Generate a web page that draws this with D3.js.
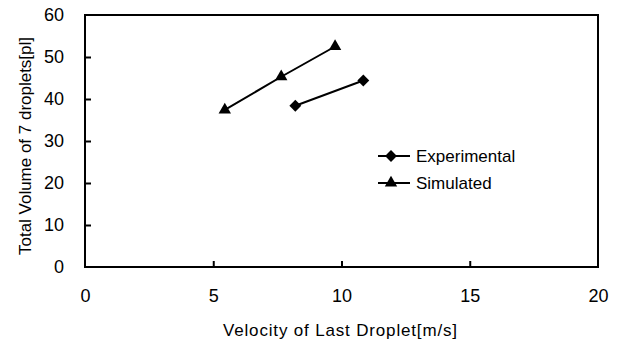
<!DOCTYPE html>
<html>
<head>
<meta charset="utf-8">
<script src="https://cdn.jsdelivr.net/npm/d3@7"></script>
<style>
  body { margin: 0; background: #fff; }
  svg { display: block; font-family: "Liberation Sans", Arial, sans-serif; }
</style>
</head>
<body>
<div id="chart"></div>
<script>
// data
const experimentalVelocity = [8.2, 10.85];
const experimentalVolume = [38.4, 44.4];
const simulatedVelocity = [5.45, 7.65, 9.75];
const simulatedVolume = [37.4, 45.3, 52.5];
const xTicks = [0, 5, 10, 15, 20];
const yTicks = [0, 10, 20, 30, 40, 50, 60];
const seriesNames = ['Experimental', 'Simulated'];

const width = 618, height = 339;
const margin = { top: 15, right: 20, bottom: 72, left: 85 };

const svg = d3.select('#chart').append('svg')
  .attr('width', width)
  .attr('height', height);

const x = d3.scaleLinear().domain([0, 20]).range([margin.left, width - margin.right]);
const y = d3.scaleLinear().domain([0, 60]).range([height - margin.bottom, margin.top]);

// frame
svg.append('rect')
  .attr('x', x(0)).attr('y', y(60))
  .attr('width', x(20) - x(0)).attr('height', y(0) - y(60))
  .attr('fill', 'none').attr('stroke', '#000').attr('stroke-width', 2);

// x axis, ticks point inward
const xAxis = svg.append('g')
  .attr('transform', `translate(0,${y(0)})`)
  .call(d3.axisBottom(x).tickValues(xTicks).tickSizeInner(-6).tickSizeOuter(0).tickPadding(22));
xAxis.select('.domain').remove();
xAxis.selectAll('.tick line').attr('stroke-width', 2).filter(d => d === 0 || d === 20).remove();
xAxis.selectAll('text').attr('font-size', 18).attr('fill', '#000')
  .style('font-family', '"Liberation Sans", Arial, sans-serif');

const yAxis = svg.append('g')
  .attr('transform', `translate(${x(0)},0)`)
  .call(d3.axisLeft(y).tickValues(yTicks).tickSizeInner(-6).tickSizeOuter(0).tickPadding(21));
yAxis.select('.domain').remove();
yAxis.selectAll('.tick line').attr('stroke-width', 2).filter(d => d === 0 || d === 60).remove();
yAxis.selectAll('text').attr('font-size', 18).attr('fill', '#000')
  .style('font-family', '"Liberation Sans", Arial, sans-serif');

// axis titles
svg.append('text')
  .attr('x', 340).attr('y', 336)
  .attr('text-anchor', 'middle').attr('font-size', 17)
  .attr('textLength', 234).attr('lengthAdjust', 'spacing')
  .text('Velocity of Last Droplet[m/s]');

svg.append('text')
  .attr('transform', 'translate(31,146) rotate(-90)')
  .attr('text-anchor', 'middle').attr('font-size', 17)
  .attr('textLength', 218).attr('lengthAdjust', 'spacing')
  .text('Total Volume of 7 droplets[pl]');

const line = d3.line().x(d => x(d[0])).y(d => y(d[1]));
const expData = experimentalVelocity.map((v, i) => [v, experimentalVolume[i]]);
const simData = simulatedVelocity.map((v, i) => [v, simulatedVolume[i]]);

const diamond = d3.symbol().type(d3.symbolDiamond2).size(90);
const triangle = d3.symbol().type(d3.symbolTriangle2).size(110);

const drawSeries = (data, sym) => {
  svg.append('path').datum(data)
    .attr('d', line).attr('fill', 'none').attr('stroke', '#000').attr('stroke-width', 2);
  svg.selectAll(null).data(data).join('path')
    .attr('transform', d => `translate(${x(d[0])},${y(d[1])})`)
    .attr('d', sym).attr('fill', '#000');
};
drawSeries(expData, diamond);
drawSeries(simData, triangle);

// legend
const legend = svg.append('g').attr('transform', 'translate(378,156)');
const legendSyms = [diamond, triangle];
seriesNames.forEach((name, i) => {
  const g = legend.append('g').attr('transform', `translate(0,${i * 27})`);
  g.append('line').attr('x1', 0).attr('x2', 32).attr('stroke', '#000').attr('stroke-width', 2);
  g.append('path').attr('transform', 'translate(13,0)').attr('d', legendSyms[i]).attr('fill', '#000');
  g.append('text').attr('x', 38).attr('y', 6).attr('font-size', 17).text(name);
});
</script>
</body>
</html>
